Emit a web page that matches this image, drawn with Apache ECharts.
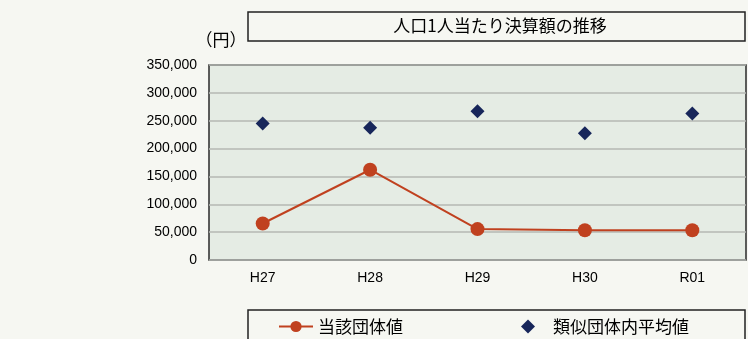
<!DOCTYPE html>
<html>
<head>
<meta charset="utf-8">
<script src="https://cdn.jsdelivr.net/npm/echarts@6/dist/echarts.min.js"></script>
<style>
  html, body { margin: 0; padding: 0; background: #f6f7f2; }
  #chart { width: 748px; height: 339px; }
</style>
</head>
<body>
<div id="chart"></div>
<script>
// 年度（和暦）
const years = ['H27', 'H28', 'H29', 'H30', 'R01'];
// 当該団体の人口1人当たり決算額（円）
const ownValues = [65500, 162000, 55500, 53500, 53500];
// 類似団体内平均値（円）
const peerAverage = [245000, 237500, 267000, 227500, 263000];
// 縦軸の目盛り
const yMin = 0;
const yMax = 350000;
const yStep = 50000;

const seriesNames = ['当該団体値', '類似団体内平均値'];
const chartTitle = '人口1人当たり決算額の推移';
const unitLabel = '（円）';

const cjk = '"Noto Sans CJK JP", "Noto Sans", sans-serif';
const latin = '"Liberation Sans", Arial, sans-serif';

const chart = echarts.init(document.getElementById('chart'));
chart.setOption({
  backgroundColor: '#f6f7f2',
  animation: false,
  graphic: [
    {
      type: 'rect',
      shape: { x: 248, y: 12, width: 497, height: 29 },
      style: { fill: 'transparent', stroke: '#222', lineWidth: 1.5 }
    },
    {
      type: 'text',
      x: 500, y: 26,
      style: {
        text: chartTitle, fill: '#000', font: '17px ' + cjk,
        align: 'center', verticalAlign: 'middle'
      }
    },
    {
      type: 'text',
      x: 221, y: 40,
      style: {
        text: unitLabel, fill: '#000', font: '17px ' + cjk,
        align: 'center', verticalAlign: 'middle'
      }
    },
    {
      type: 'rect',
      shape: { x: 248, y: 310, width: 497, height: 40 },
      style: { fill: 'transparent', stroke: '#222', lineWidth: 1.5 }
    }
  ],
  legend: [
    {
      data: [seriesNames[0]],
      left: 273, top: 313,
      itemWidth: 34, itemHeight: 14,
      textStyle: { fontFamily: cjk, fontSize: 17, color: '#000' }
    },
    {
      data: [{ name: seriesNames[1], icon: 'diamond' }],
      left: 516, top: 313,
      itemWidth: 14, itemHeight: 14,
      textStyle: { fontFamily: cjk, fontSize: 17, color: '#000', padding: [0, 0, 0, 13] }
    }
  ],
  grid: {
    left: 209, right: 2, top: 65, bottom: 79,
    show: true,
    backgroundColor: '#e5ece4',
    borderColor: '#2a2a2a',
    borderWidth: 1.5
  },
  xAxis: {
    type: 'category',
    data: years,
    boundaryGap: true,
    axisLine: { show: false },
    axisTick: { show: false },
    axisLabel: { margin: 11, fontFamily: latin, fontSize: 14, color: '#000' }
  },
  yAxis: {
    type: 'value',
    min: yMin, max: yMax, interval: yStep,
    axisLine: { show: false },
    axisTick: { show: false },
    splitLine: { lineStyle: { color: '#b4b8b3', width: 1.5 } },
    axisLabel: {
      margin: 12, fontFamily: latin, fontSize: 14, color: '#000',
      formatter: v => v.toLocaleString('en-US')
    }
  },
  series: [
    {
      name: seriesNames[0],
      type: 'line',
      data: ownValues,
      symbol: 'circle',
      symbolSize: 14,
      lineStyle: { color: '#c0411f', width: 2 },
      itemStyle: { color: '#c0411f', opacity: 1 },
      z: 3
    },
    {
      name: seriesNames[1],
      type: 'scatter',
      data: peerAverage,
      symbol: 'diamond',
      symbolSize: 14,
      itemStyle: { color: '#17265a', opacity: 1 },
      z: 4
    }
  ]
});
</script>
</body>
</html>
